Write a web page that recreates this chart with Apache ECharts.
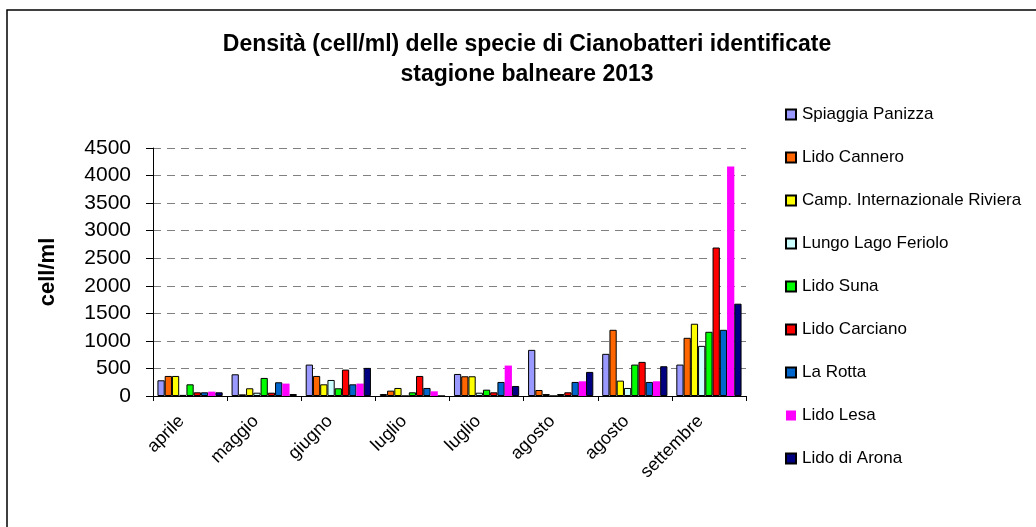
<!DOCTYPE html>
<html>
<head>
<meta charset="utf-8">
<script src="https://cdn.jsdelivr.net/npm/echarts@6/dist/echarts.min.js"></script>
<style>
html,body{margin:0;padding:0;background:#fff;}
#chart{width:1036px;height:527px;}
</style>
</head>
<body>
<div id="chart"></div>
<script>
const categories = ['aprile','maggio','giugno','luglio','luglio','agosto','agosto','settembre'];
const seriesNames = ['Spiaggia Panizza','Lido Cannero','Camp. Internazionale Riviera','Lungo Lago Feriolo','Lido Suna','Lido Carciano','La Rotta','Lido Lesa','Lido di Arona'];
const colors = ['#9999FF','#FF6600','#FFFF00','#CCFFFF','#00FF00','#FF0000','#0066CC','#FF00FF','#000080'];
const spiaggiaPanizza = [285, 394, 570, 36, 400, 837, 765, 570];
const lidoCannero     = [364, 30, 364, 97, 358, 109, 1201, 1056];
const campRiviera     = [364, 140, 212, 146, 358, 36, 279, 1311];
const lungoLagoFeriolo= [20, 60, 291, 0, 60, 0, 146, 910];
const lidoSuna        = [212, 328, 140, 67, 115, 36, 570, 1165];
const lidoCarciano    = [67, 60, 479, 364, 67, 67, 619, 2694];
const laRotta         = [67, 249, 212, 146, 255, 255, 255, 1201];
const lidoLesa        = [79, 225, 225, 85, 552, 267, 267, 4163];
const lidoArona       = [67, 36, 510, 0, 182, 437, 540, 1675];
const yTicks = [0,500,1000,1500,2000,2500,3000,3500,4000,4500];
const allValues = [spiaggiaPanizza, lidoCannero, campRiviera, lungoLagoFeriolo, lidoSuna, lidoCarciano, laRotta, lidoLesa, lidoArona];

const chart = echarts.init(document.getElementById('chart'));
const series = seriesNames.map((name, i) => ({
  name: name,
  type: 'bar',
  data: allValues[i],
  barGap: '0%',
  barCategoryGap: '12%',
  itemStyle: {
    color: colors[i],
    borderColor: i === 7 ? colors[i] : '#000',
    borderWidth: i === 7 ? 0 : 1
  },
  emphasis: { disabled: true }
}));

chart.setOption({
  animation: false,
  backgroundColor: '#fff',
  textStyle: { fontFamily: 'Liberation Sans, Arial, sans-serif', color: '#000' },
  title: {
    text: 'Densità (cell/ml) delle specie di Cianobatteri identificate\nstagione balneare 2013',
    left: 522,
    top: 25,
    textAlign: 'center',
    textStyle: { fontSize: 23, fontWeight: 'bold', lineHeight: 30, fontFamily: 'Liberation Sans, Arial', color: '#000' }
  },
  graphic: [{
    type: 'rect',
    shape: { x: 7, y: 10, width: 1040, height: 530 },
    style: { fill: 'none', stroke: '#000', lineWidth: 1.5 },
    silent: true
  }],
  legend: {
    orient: 'vertical',
    left: 785,
    top: 106,
    padding: 0,
    itemWidth: 10,
    itemHeight: 10,
    itemGap: 26,
    icon: 'rect',
    textStyle: { fontSize: 17, color: '#000', lineHeight: 17, padding: [0, 0, 0, 1] },
    data: seriesNames
  },
  grid: { left: 153, right: 290, top: 148, bottom: 131, containLabel: false },
  xAxis: {
    type: 'category',
    data: categories,
    axisLine: { lineStyle: { color: '#000', width: 1 } },
    axisTick: { show: true, length: 5, lineStyle: { color: '#000' } },
    axisLabel: { rotate: 45, fontSize: 18, color: '#000', margin: 14, interval: 0, padding: [0, 12, 0, 0] },
    splitLine: { show: false }
  },
  yAxis: {
    type: 'value',
    min: yTicks[0],
    max: yTicks[yTicks.length - 1],
    interval: 500,
    name: 'cell/ml',
    nameLocation: 'middle',
    nameRotate: 90,
    nameGap: 94,
    nameTextStyle: { fontSize: 22, fontWeight: 'bold', color: '#000' },
    axisLine: { show: true, lineStyle: { color: '#000' } },
    axisTick: { show: true, length: 7, lineStyle: { color: '#000' } },
    axisLabel: { fontSize: 21, color: '#000', margin: 22, formatter: v => String(v) },
    splitLine: { show: true, lineStyle: { color: '#808080', type: [8, 6], width: 1 } }
  },
  series: series
});
</script>
</body>
</html>
